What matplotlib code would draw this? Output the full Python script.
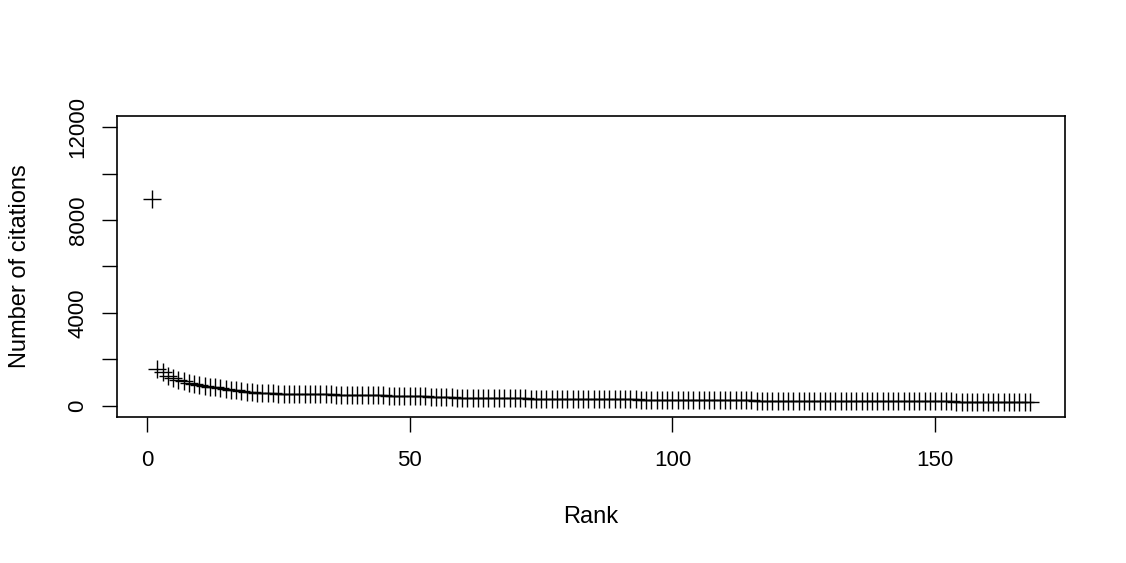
import matplotlib.pyplot as plt

plt.rcParams['font.family'] = ['Liberation Sans', 'DejaVu Sans']

# citations per paper, ordered by rank
citations = [
    8900, 1590, 1440, 1270, 1180, 1120, 1060, 1000, 950, 900,
    860, 830, 800, 760, 720, 700, 670, 640, 610, 580,
    570, 560, 550, 540, 530, 525, 520, 515, 510, 505,
    500, 498, 495, 492, 490, 488, 485, 482, 480, 476,
    470, 465, 460, 455, 450, 445, 440, 435, 430, 425,
    420, 415, 405, 398, 390, 385, 378, 370, 360, 355,
    350, 345, 340, 338, 335, 332, 330, 328, 325, 322,
    320, 318, 315, 312, 310, 308, 305, 302, 300, 298,
    296, 294, 292, 291, 290, 290, 288, 286, 284, 282,
    280, 278, 276, 274, 272, 270, 268, 266, 264, 262,
    260, 258, 256, 254, 252, 250, 248, 246, 244, 242,
    240, 238, 236, 234, 232, 230, 228, 226, 224, 222,
    220, 219, 218, 217, 216, 216, 215, 215, 214, 214,
    213, 212, 211, 210, 209, 208, 207, 206, 205, 204,
    203, 202, 200, 198, 196, 195, 194, 193, 192, 191,
    190, 189, 188, 187, 186, 185, 184, 183, 182, 181,
    180, 179, 178, 177, 176, 175, 174, 173,
]
rank = list(range(1, len(citations) + 1))
x_ticks = [0, 50, 100, 150]
y_ticks = [0, 2000, 4000, 6000, 8000, 10000, 12000]
y_labels = ['0', '', '4000', '', '8000', '', '12000']

fig = plt.figure(figsize=(11.26, 5.63), dpi=100)
ax = fig.add_axes([0.1039, 0.2593, 0.8419, 0.5347])

ax.plot(rank, citations, linestyle='none', marker='+', markersize=13,
        markeredgewidth=1.0, color='black')

# R style: 4% padding around data range
n = len(rank)
pad = (n - 1) * 0.04
ax.set_xlim(1 - pad, n + pad)
ax.set_ylim(-480, 12480)

ax.set_xticks(x_ticks)
ax.set_yticks(y_ticks)
ax.set_yticklabels(y_labels)
ax.tick_params(length=10.5, width=1.0, pad=13, labelsize=16, direction='out')
ax.tick_params(axis='y', labelrotation=90, pad=10)
for lab in ax.get_yticklabels():
    lab.set_va('center')

for s in ax.spines.values():
    s.set_linewidth(1.2)

ax.set_xlabel('Rank', fontsize=17)
ax.set_ylabel('Number of citations', fontsize=17)
ax.xaxis.set_label_coords(0.5, -0.332)
ax.xaxis.label.set_va('center')
ax.yaxis.set_label_coords(-0.1023, 0.5)
ax.yaxis.label.set_va('center')

fig.savefig('out.png', dpi=100)
